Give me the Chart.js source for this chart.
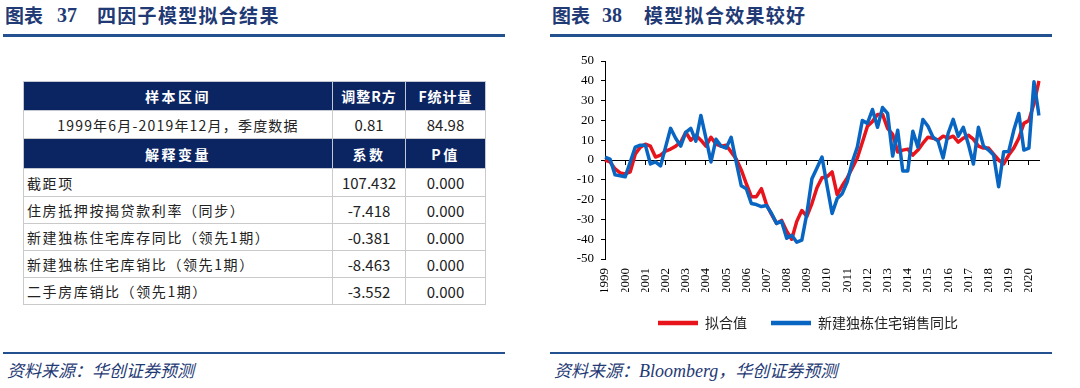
<!DOCTYPE html>
<html lang="zh-CN">
<head>
<meta charset="utf-8">
<title>四因子模型拟合结果 / 模型拟合效果较好</title>
<script src="https://cdn.jsdelivr.net/npm/chart.js@4.4.1/dist/chart.umd.min.js"></script>
<style>
    html, body { margin: 0; padding: 0; background: #fff; }
    body { width: 1080px; height: 388px; position: relative; overflow: hidden; font-family: "Noto Sans CJK SC", sans-serif; }
    .ttl { position: absolute; top: 2px; line-height: 26px; font-size: 19px; font-weight: 700; color: #1f3a75; white-space: nowrap; }
    .ttl.main { letter-spacing: 1.3px; }
    .ttl.num { font-family: "Liberation Serif", serif; font-size: 20px; }
    .rule { position: absolute; background: #23508f; }
    .src { position: absolute; top: 358px; line-height: 24px; font-size: 17px; font-style: italic; color: #1f3a75; white-space: nowrap; }
    .src .en { font-family: "Liberation Serif", serif; font-size: 18px; }

    table.reg { position: absolute; left: 23px; top: 81px; width: 462px; border-collapse: collapse; table-layout: fixed; }
    table.reg td { border: 1px solid #cacaca; padding: 0; color: #222; font-size: 15px; text-align: center; white-space: nowrap; }
    table.reg td.lbl { text-align: left; padding-left: 3px; font-size: 14px; letter-spacing: 1.6px; }
    table.reg tr.hd td { background: #0b2462; color: #fff; font-weight: 700; font-size: 14px; letter-spacing: 2.5px; border-color: #c4c8d4; }
    table.reg td.note { font-size: 14px; letter-spacing: 1.2px; }

    #chartBox { position: absolute; left: 550px; top: 40px; width: 516px; height: 300px; }
</style>
</head>
<body>

<!-- 左：图表37 -->
<div class="ttl" style="left:5px">图表</div>
<div class="ttl num" style="left:57px">37</div>
<div class="ttl main" style="left:97px">四因子模型拟合结果</div>
<div class="rule" style="left:3px; top:34px; width:502px; height:3px"></div>

<table class="reg">
    <colgroup><col style="width:309px"><col style="width:73px"><col style="width:80px"></colgroup>
    <tr class="hd" style="height:29px"><td>样本区间</td><td style="letter-spacing:1px">调整R方</td><td style="letter-spacing:1px">F统计量</td></tr>
    <tr style="height:28px"><td class="note">1999年6月-2019年12月，季度数据</td><td>0.81</td><td>84.98</td></tr>
    <tr class="hd" style="height:30px"><td>解释变量</td><td>系数</td><td>P值</td></tr>
    <tr style="height:28px"><td class="lbl">截距项</td><td>107.432</td><td>0.000</td></tr>
    <tr style="height:27px"><td class="lbl">住房抵押按揭贷款利率（同步）</td><td>-7.418</td><td>0.000</td></tr>
    <tr style="height:27px"><td class="lbl">新建独栋住宅库存同比（领先1期）</td><td>-0.381</td><td>0.000</td></tr>
    <tr style="height:27px"><td class="lbl">新建独栋住宅库销比（领先1期）</td><td>-8.463</td><td>0.000</td></tr>
    <tr style="height:27px"><td class="lbl">二手房库销比（领先1期）</td><td>-3.552</td><td>0.000</td></tr>
</table>

<div class="rule" style="left:3px; top:352px; width:502px; height:2px"></div>
<div class="src" style="left:7px">资料来源：华创证券预测</div>

<!-- 右：图表38 -->
<div class="ttl" style="left:552px">图表</div>
<div class="ttl num" style="left:602px">38</div>
<div class="ttl main" style="left:644px">模型拟合效果较好</div>
<div class="rule" style="left:550px; top:34px; width:502px; height:3px"></div>

<div id="chartBox"><canvas id="fitChart"></canvas></div>

<div class="rule" style="left:550px; top:352px; width:502px; height:2px"></div>
<div class="src" style="left:554px">资料来源：<span class="en">Bloomberg</span>，华创证券预测</div>

<script>
    // 年份刻度（每4个季度一个）
    const years = [1999, 2000, 2001, 2002, 2003, 2004, 2005, 2006, 2007, 2008, 2009,
                   2010, 2011, 2012, 2013, 2014, 2015, 2016, 2017, 2018, 2019, 2020];

    // 拟合值（季度，%）
    const fittedValues = [
        0, -1, -4.5, -6.5, -7, -6, 3, 6.5, 8, 7,
        1.5, 2.5, 4.5, 5.5, 7, 9, 14, 10, 12.5, 10,
        7, 11.5, 8, 7, 7.5, 4, 0.5, -5, -12, -18.5,
        -18.5, -14.5, -22.5, -27.5, -32, -30.5, -36, -40, -31, -25.5,
        -28.5, -22, -14, -9, -8.5, -6, -17.5, -13, -9, -4,
        1, 9, 17, 19.5, 23, 23, 16, 13, 4, 5,
        5.5, 2.5, 5, 8.5, 11.5, 11, 10, 12, 11, 12,
        9, 11, 12.5, 10.5, 7, 6, 6, 3, 0, -2,
        2.5, 6, 11, 18.5, 20, 28.5, 40
    ];

    // 新建独栋住宅销售同比（季度，%）
    const salesYoY = [
        1.5, 0.5, -7.5, -8, -8.5, -1, 6.5, 7.5, 7.5, -2,
        -1, -3, 6.5, 16, 11, 7, 14, 16, 9.5, 22.5,
        11, -1, 10.5, 7, 6, 11.5, -1, -13, -14.5, -22,
        -22.5, -23.5, -23, -27, -32, -31, -39.5, -38, -41.5, -40.5,
        -27, -9.5, -4, 1.5, -13, -27, -19.5, -17, -11, -1,
        6.5, 20, 18.5, 25.5, 16.5, 26.5, 23.5, 2, 15, -5.5,
        -5.5, 14.5, 6.5, 20.5, 17, 11.5, 9.5, 1, 13.5, 20.5,
        12, 16.5, 8, -2, 16.5, 7, 5, 2.5, -13.5, 4.2,
        4.3, 15, 23.5, 5, 6, 39.5, 22.5
    ];

    const quarterLabels = years.flatMap(y => [String(y), '', '', '']).slice(0, fittedValues.length);

    const axisFont = { family: '"Liberation Serif", "Times New Roman", serif', size: 13 };

    const ctx = document.getElementById('fitChart');
    new Chart(ctx, {
        type: 'line',
        data: {
            labels: quarterLabels,
            datasets: [
                {
                    label: '拟合值',
                    data: fittedValues,
                    borderColor: '#e8141c',
                    backgroundColor: '#e8141c',
                    borderWidth: 3.5,
                    pointRadius: 0,
                    tension: 0,
                    borderJoinStyle: 'round',
                    order: 1
                },
                {
                    label: '新建独栋住宅销售同比',
                    data: salesYoY,
                    borderColor: '#0866c2',
                    backgroundColor: '#0866c2',
                    borderWidth: 3.5,
                    pointRadius: 0,
                    tension: 0,
                    borderJoinStyle: 'round',
                    order: 0
                }
            ]
        },
        options: {
            responsive: true,
            maintainAspectRatio: false,
            animation: false,
            layout: { padding: { left: 27, right: 27, top: 21, bottom: 0 } },
            plugins: {
                tooltip: { enabled: false },
                legend: {
                    position: 'bottom',
                    labels: {
                        usePointStyle: true,
                        pointStyle: 'line',
                        pointStyleWidth: 40,
                        padding: 24,
                        color: '#222',
                        font: { family: '"Noto Sans CJK SC", sans-serif', size: 14 },
                        sort: (a, b) => a.datasetIndex - b.datasetIndex,
                        generateLabels: (chart) => {
                            const items = Chart.defaults.plugins.legend.labels.generateLabels(chart);
                            items.forEach(it => { it.lineWidth = 4.5; });
                            return items;
                        }
                    }
                }
            },
            scales: {
                y: {
                    min: -50,
                    max: 50,
                    ticks: { stepSize: 10, color: '#000', font: axisFont, padding: 7 },
                    grid: { drawOnChartArea: false, tickLength: 4, color: '#000' },
                    border: { color: '#000', width: 1 },
                    afterFit: (s) => { s.width = 28; }
                },
                x: {
                    ticks: { autoSkip: false, maxRotation: 90, minRotation: 90, color: '#000', font: axisFont, padding: 9 },
                    grid: { display: false, drawTicks: false },
                    border: { display: false },
                    afterFit: (s) => { s.height = 33; }
                },
                // 0轴及年度刻度线
                x2: {
                    type: 'category',
                    position: { y: 0 },
                    ticks: { display: false, autoSkip: false },
                    grid: {
                        drawOnChartArea: false,
                        tickLength: 4,
                        color: (c) => (c.index % 4 === 0 ? '#000' : 'rgba(0,0,0,0)')
                    },
                    border: { color: '#000', width: 1 },
                    afterFit: (s) => { s.height = 0; }
                }
            }
        }
    });
</script>
</body>
</html>
